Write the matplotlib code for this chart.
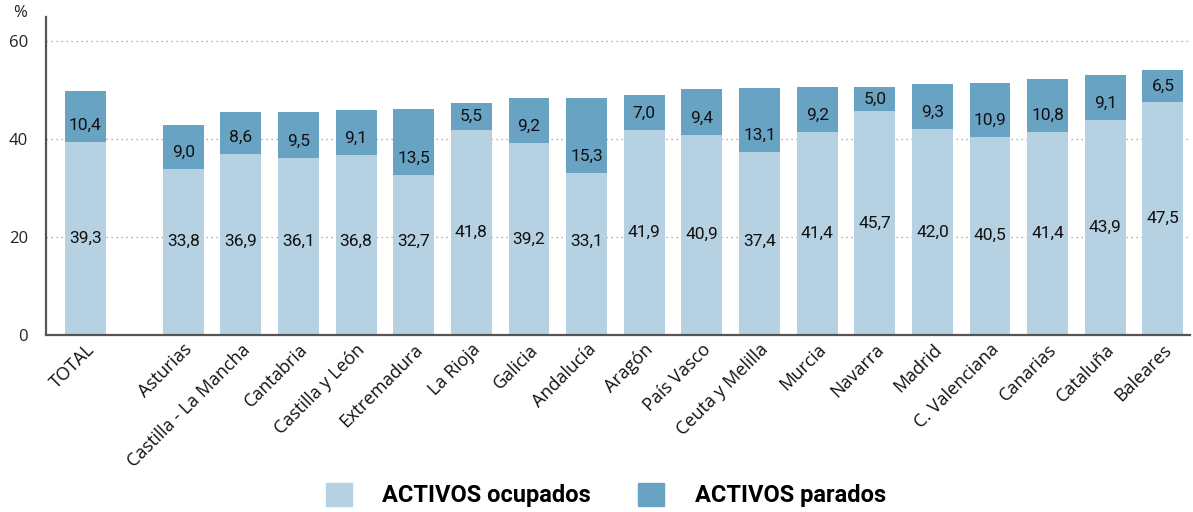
import numpy as np
import matplotlib.pyplot as plt
from matplotlib.patches import Patch

regiones = ["TOTAL", "Asturias", "Castilla - La Mancha", "Cantabria", "Castilla y León",
            "Extremadura", "La Rioja", "Galicia", "Andalucía", "Aragón", "País Vasco",
            "Ceuta y Melilla", "Murcia", "Navarra", "Madrid", "C. Valenciana",
            "Canarias", "Cataluña", "Baleares"]
ocupados = [39.3, 33.8, 36.9, 36.1, 36.8, 32.7, 41.8, 39.2, 33.1, 41.9, 40.9,
            37.4, 41.4, 45.7, 42.0, 40.5, 41.4, 43.9, 47.5]
parados = [10.4, 9.0, 8.6, 9.5, 9.1, 13.5, 5.5, 9.2, 15.3, 7.0, 9.4,
           13.1, 9.2, 5.0, 9.3, 10.9, 10.8, 9.1, 6.5]

c_ocup = "#b5d1e2"
c_par = "#68a3c3"

ocupados = np.array(ocupados)
parados = np.array(parados)
# TOTAL separado del resto por un hueco
x = np.concatenate([[0.0], 1.7 + np.arange(len(regiones) - 1)])

fig = plt.figure(figsize=(11.93, 5.12), dpi=100)
ax = fig.add_axes([0.0386, 0.3457, 0.9589, 0.622])

ax.bar(x, ocupados, width=0.71, color=c_ocup, zorder=2)
ax.bar(x, parados, width=0.71, bottom=ocupados, color=c_par, zorder=2)

for xi, o, p in zip(x, ocupados, parados):
    ax.text(xi, max(o / 2, 19.2), f"{o:.1f}".replace(".", ","), ha="center", va="center",
            fontsize=12.5, family="Roboto", color="#111111", zorder=3)
    ax.text(xi, o + min(3.4, p / 2), f"{p:.1f}".replace(".", ","), ha="center", va="center",
            fontsize=12.5, family="Roboto", color="#111111", zorder=3)

ax.set_ylim(0, 65)
ax.set_xlim(-0.68, x[-1] + 0.47)
ax.set_yticks([0, 20, 40, 60])
ax.yaxis.grid(True, linestyle=(0, (1, 3)), color="#999999", linewidth=0.9, zorder=0)
ax.tick_params(axis="y", length=0, pad=13, labelsize=12, labelcolor="#222222")
ax.tick_params(axis="x", length=0, pad=4)
ax.set_xticks(x)
ax.set_xticklabels(regiones, rotation=45, ha="right", rotation_mode="anchor",
                   fontsize=13, family="Open Sans", color="#111111")
for lbl in ax.get_yticklabels():
    lbl.set_family("Open Sans")

for s in ["top", "right"]:
    ax.spines[s].set_visible(False)
for s in ["left", "bottom"]:
    ax.spines[s].set_color("#555555")
    ax.spines[s].set_linewidth(1.6)

fig.text(0.011, 0.975, "%", fontsize=12, family="Open Sans", color="#222222", va="center")

handles = [Patch(color=c_ocup, label="ACTIVOS ocupados"),
           Patch(color=c_par, label="ACTIVOS parados")]
fig.legend(handles=handles, loc="center", bbox_to_anchor=(0.508, 0.033), ncol=2,
           frameon=False, prop={"family": "Roboto", "weight": "bold", "size": 17},
           handlelength=1.1, handleheight=1.1, handletextpad=1.3, columnspacing=2.0)

fig.savefig("out.png", dpi=100)
